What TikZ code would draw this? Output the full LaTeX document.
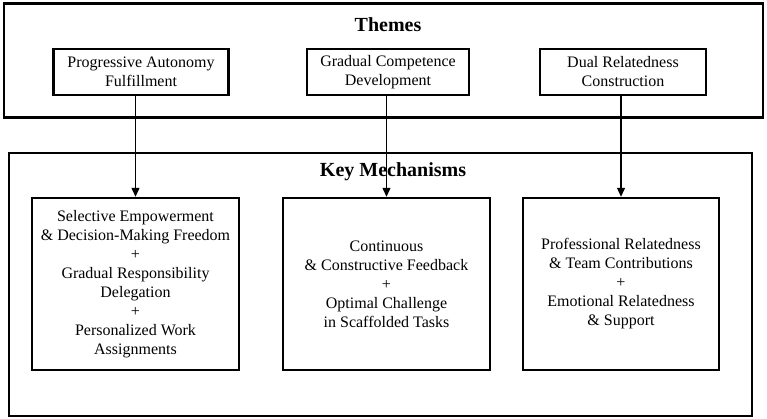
\documentclass[tikz,border=0pt]{standalone}
\usepackage{fontspec}
\setmainfont{Liberation Serif}
\usetikzlibrary{arrows.meta}

\begin{document}
\begin{tikzpicture}[x=1pt, y=-1pt,
    frame/.style={rectangle, draw, line width=2.4pt, inner sep=0pt},
    themebox/.style={rectangle, draw, line width=2.4pt, minimum height=46pt, align=center, inner sep=0pt, font=\fontsize{16}{19}\selectfont},
    mechbox/.style={rectangle, draw, line width=2.4pt, minimum height=172pt, align=center, inner sep=0pt, font=\fontsize{16}{19}\selectfont},
    heading/.style={font=\fontsize{20}{24}\selectfont\bfseries},
    arrow/.style={-{Triangle[length=9pt, width=8pt]}, line width=1.2pt}
]
    \useasboundingbox (0,0) rectangle (767,419);

    % outer frames
    \node[frame, minimum width=759pt, minimum height=114pt] (themes) at (383.5, 60.5) {};
    \node[frame, minimum width=743pt, minimum height=263pt] (mechs) at (380.5, 284.5) {};
    \node[heading] (themestitle) at (388, 25) {Themes};
    \node[heading] (mechstitle) at (393, 172) {Key Mechanisms};

    % themes
    \node[themebox, minimum width=175pt] (autonomy) at (141, 72) {Progressive Autonomy\\Fulfillment};
    \node[themebox, minimum width=162pt] (competence) at (388, 72) {Gradual Competence\\Development};
    \node[themebox, minimum width=166pt] (relatedness) at (623, 72) {Dual Relatedness\\Construction};

    % mechanisms
    \node[mechbox, minimum width=207pt] (mautonomy) at (135.5, 284) {Selective Empowerment\\\& Decision-Making Freedom\\+\\Gradual Responsibility\\Delegation\\+\\Personalized Work\\Assignments};
    \node[mechbox, minimum width=207pt] (mcompetence) at (386.5, 284) {Continuous\\\& Constructive Feedback\\+\\Optimal Challenge\\in Scaffolded Tasks};
    \node[mechbox, minimum width=196pt] (mrelatedness) at (621, 284) {Professional Relatedness\\\& Team Contributions\\+\\Emotional Relatedness\\\& Support};

    \draw[arrow] (mautonomy.north |- autonomy.south) -- (mautonomy.north);
    \draw[arrow] (mcompetence.north |- competence.south) -- (mcompetence.north);
    \draw[arrow] (mrelatedness.north |- relatedness.south) -- (mrelatedness.north);
\end{tikzpicture}
\end{document}
